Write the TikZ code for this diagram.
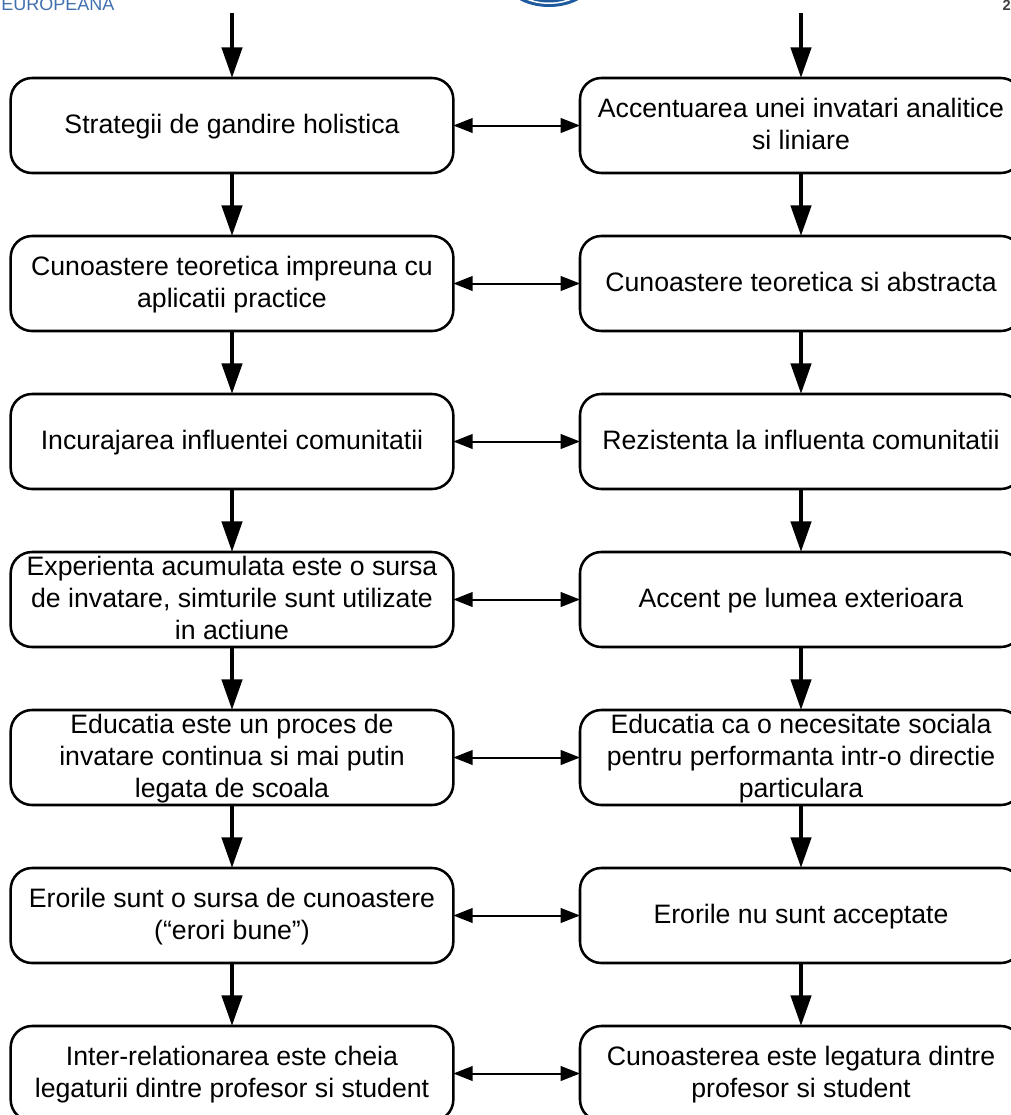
\documentclass[tikz,border=0pt]{standalone}
\usepackage{fontspec}
\setmainfont{Liberation Sans}
\usetikzlibrary{arrows.meta}
\definecolor{logoblue}{HTML}{1F5A9E}
\definecolor{eurblue}{HTML}{3F6FAE}
\definecolor{pagegray}{HTML}{404040}
\newcommand{\boxstrut}{\rule[-5.5pt]{0pt}{23pt}}
\tikzset{
  flowbox/.style={draw=black,line width=1.9pt,rounded corners=16pt,fill=white,minimum width=332pt,minimum height=71.25pt,inner sep=0pt,outer sep=0pt,align=center,font=\fontsize{20pt}{23.8pt}\selectfont,text=black},
  rightbox/.style={flowbox,minimum width=331.5pt},
  downarrow/.style={line width=3.4pt,-{Triangle[length=23pt,width=15pt]}},
  bothways/.style={line width=1.5pt,{Triangle[length=14.5pt,width=11pt]}-{Triangle[length=14.5pt,width=11pt]}}
}
\begin{document}
\begin{tikzpicture}[x=0.75pt,y=-0.75pt]
\useasboundingbox (0,0) rectangle (1011,1115);
\clip (0,0) rectangle (1011,1115);
\node[anchor=base west,text=eurblue,inner sep=0pt,font=\fontsize{13.5pt}{16pt}\selectfont] (eur) at (1,10.5) {EUROPEANA};
\node[anchor=base east,text=pagegray,inner sep=0pt,font=\bfseries\fontsize{11pt}{13pt}\selectfont] (pg) at (1011,10.5) {2};
\fill[logoblue] (549,-22) ellipse (45 and 29);
\fill[white] (549,-22) ellipse (41 and 26);
\fill[logoblue] (549,-22) ellipse (38 and 24.5);
\node[flowbox] (l1) at (232,125.5) {\boxstrut Strategii de gandire holistica\boxstrut};
\node[flowbox] (l2) at (232,283.5) {\boxstrut Cunoastere teoretica impreuna cu\\aplicatii practice\boxstrut};
\node[flowbox] (l3) at (232,441.5) {\boxstrut Incurajarea influentei comunitatii\boxstrut};
\node[flowbox] (l4) at (232,599.5) {\boxstrut Experienta acumulata este o sursa\\de invatare, simturile sunt utilizate\\in actiune\boxstrut};
\node[flowbox] (l5) at (232,757.5) {\boxstrut Educatia este un proces de\\invatare continua si mai putin\\legata de scoala\boxstrut};
\node[flowbox] (l6) at (232,915.5) {\boxstrut Erorile sunt o sursa de cunoastere\\(“erori bune”)\boxstrut};
\node[flowbox] (l7) at (232,1073.5) {\boxstrut Inter-relationarea este cheia\\legaturii dintre profesor si student\boxstrut};
\node[rightbox] (r1) at (801,125.5) {\boxstrut Accentuarea unei invatari analitice\\si liniare\boxstrut};
\node[rightbox] (r2) at (801,283.5) {\boxstrut Cunoastere teoretica si abstracta\boxstrut};
\node[rightbox] (r3) at (801,441.5) {\boxstrut Rezistenta la influenta comunitatii\boxstrut};
\node[rightbox] (r4) at (801,599.5) {\boxstrut Accent pe lumea exterioara\boxstrut};
\node[rightbox] (r5) at (801,757.5) {\boxstrut Educatia ca o necesitate sociala\\pentru performanta intr-o directie\\particulara\boxstrut};
\node[rightbox] (r6) at (801,915.5) {\boxstrut Erorile nu sunt acceptate\boxstrut};
\node[rightbox] (r7) at (801,1073.5) {\boxstrut Cunoasterea este legatura dintre\\profesor si student\boxstrut};
\coordinate (sl) at (232,13);
\coordinate (sr) at (801,13);
\draw[downarrow] (sl) -- (l1.north);
\draw[downarrow] (sr) -- (r1.north);
\foreach \a/\b in {1/2,2/3,3/4,4/5,5/6,6/7}{
  \draw[downarrow] (l\a.south) -- (l\b.north);
  \draw[downarrow] (r\a.south) -- (r\b.north);
}
\foreach \a in {1,...,7}{
  \draw[bothways] (l\a.east) -- (r\a.west);
}
\end{tikzpicture}
\end{document}
